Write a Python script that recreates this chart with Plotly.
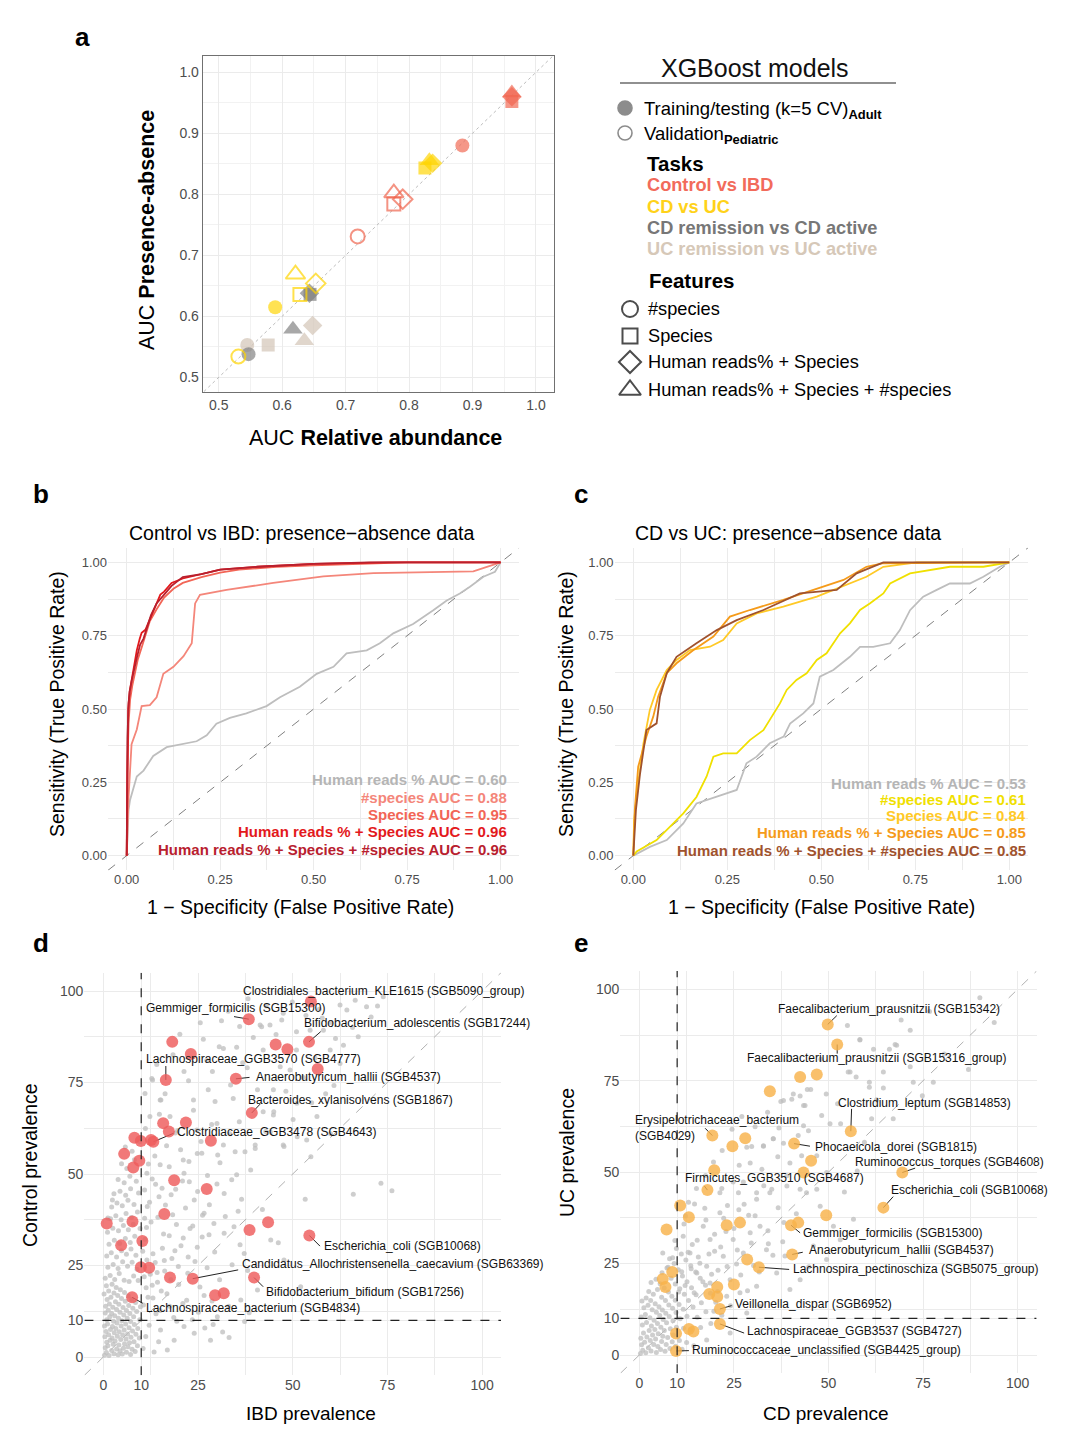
import plotly.graph_objects as go

# page body has an 8px margin: figure is sized to fit the 1080x1433 window
OFF = 8
W, H = 1080 - 2 * OFF, 1433 - 2 * OFF
FONT = "Liberation Sans, Arial, Helvetica, sans-serif"
TICK_COL = "#4D4D4D"
GRID = "#EBEBEB"

# ---------------- Panel a data ----------------
feature_names = ["#species", "Species", "Human reads% + Species", "Human reads% + Species + #species"]
feature_symbols = ["circle", "square", "diamond", "triangle-up"]
task_names = ["Control vs IBD", "CD vs UC", "CD remission vs CD active", "UC remission vs UC active"]
task_colors = ["#F0654F", "#FFD400", "#7F7F7F", "#D2C3B4"]

# training/testing (filled) : AUC relative abundance, AUC presence-absence, per feature set
train_ra = {
    "Control vs IBD": [0.884, 0.962, 0.962, 0.962],
    "CD vs UC": [0.589, 0.825, 0.837, 0.832],
    "CD remission vs CD active": [0.547, 0.644, 0.643, 0.617],
    "UC remission vs UC active": [0.545, 0.578, 0.648, 0.635],
}
train_pa = {
    "Control vs IBD": [0.880, 0.952, 0.960, 0.966],
    "CD vs UC": [0.615, 0.843, 0.851, 0.855],
    "CD remission vs CD active": [0.538, 0.636, 0.638, 0.579],
    "UC remission vs UC active": [0.553, 0.553, 0.585, 0.560],
}
# validation (open)
valid_ra = {
    "Control vs IBD": [0.719, 0.776, 0.790, 0.776],
    "CD vs UC": [0.531, 0.628, 0.653, 0.621],
}
valid_pa = {
    "Control vs IBD": [0.731, 0.784, 0.792, 0.802],
    "CD vs UC": [0.534, 0.636, 0.654, 0.669],
}

# ---------------- Panel b data (Control vs IBD ROC) ----------------
b_labels = ["Human reads % AUC = 0.60", "#species AUC = 0.88", "Species AUC = 0.95",
            "Human reads % + Species AUC = 0.96", "Human reads % + Species + #species AUC = 0.96"]
b_colors = ["#BEBEBE", "#F4867A", "#F26556", "#E3191C", "#B8202E"]
b_fpr_hr = [0, 0.003, 0.005, 0.009, 0.018, 0.027, 0.045, 0.071, 0.107, 0.143, 0.187, 0.214, 0.24, 0.276, 0.32,
            0.374, 0.41, 0.463, 0.508, 0.553, 0.588, 0.642, 0.677, 0.713, 0.766, 0.82, 0.856, 0.891, 0.918,
            0.954, 0.985, 1.0]
b_tpr_hr = [0, 0.08, 0.156, 0.19, 0.23, 0.27, 0.29, 0.34, 0.37, 0.38, 0.39, 0.41, 0.45, 0.47, 0.485, 0.51,
            0.54, 0.576, 0.62, 0.644, 0.69, 0.70, 0.724, 0.758, 0.79, 0.837, 0.87, 0.894, 0.917, 0.951,
            0.968, 1.0]
b_fpr_ns = [0, 0.002, 0.005, 0.009, 0.013, 0.027, 0.04, 0.062, 0.08, 0.098, 0.125, 0.152, 0.174, 0.183,
            0.196, 0.267, 0.392, 0.526, 0.66, 0.927, 1.0]
b_tpr_ns = [0, 0.1, 0.2, 0.29, 0.38, 0.43, 0.51, 0.513, 0.54, 0.62, 0.644, 0.68, 0.724, 0.86, 0.889, 0.906,
            0.93, 0.952, 0.963, 0.969, 1.0]
b_fpr_sp = [0, 0.002, 0.005, 0.009, 0.015, 0.022, 0.03, 0.04, 0.05, 0.062, 0.08, 0.1, 0.125, 0.15, 0.2, 0.25,
            0.3, 0.4, 0.5, 0.6, 0.75, 1.0]
b_tpr_sp = [0, 0.3, 0.45, 0.53, 0.58, 0.62, 0.67, 0.71, 0.75, 0.8, 0.84, 0.88, 0.91, 0.93, 0.95, 0.965, 0.975,
            0.985, 0.99, 0.995, 1.0, 1.0]
b_fpr_hs = [0, 0.002, 0.004, 0.008, 0.013, 0.02, 0.027, 0.035, 0.04, 0.05, 0.06, 0.075, 0.09, 0.1, 0.12,
            0.15, 0.2, 0.25, 0.35, 0.5, 0.7, 1.0]
b_tpr_hs = [0, 0.35, 0.5, 0.56, 0.6, 0.65, 0.7, 0.74, 0.76, 0.77, 0.8, 0.85, 0.89, 0.9, 0.93, 0.945, 0.96,
            0.975, 0.985, 0.995, 1.0, 1.0]
b_fpr_all = [0, 0.002, 0.005, 0.008, 0.014, 0.02, 0.028, 0.036, 0.045, 0.055, 0.065, 0.08, 0.1, 0.12, 0.15,
             0.2, 0.25, 0.35, 0.5, 0.65, 1.0]
b_tpr_all = [0, 0.4, 0.52, 0.56, 0.6, 0.64, 0.68, 0.72, 0.74, 0.78, 0.82, 0.86, 0.89, 0.92, 0.95, 0.96,
             0.975, 0.985, 0.995, 1.0, 1.0]

# ---------------- Panel c data (CD vs UC ROC) ----------------
c_labels = ["Human reads % AUC = 0.53", "#species AUC = 0.61", "Species AUC = 0.84",
            "Human reads % + Species AUC = 0.85", "Human reads % + Species + #species AUC = 0.85"]
c_colors = ["#BEBEBE", "#F0E000", "#FFC926", "#F59B1A", "#A0522D"]
c_fpr_hr = [0, 0.044, 0.089, 0.133, 0.168, 0.222, 0.275, 0.301, 0.328, 0.363, 0.4, 0.417, 0.452, 0.479,
            0.496, 0.532, 0.576, 0.603, 0.638, 0.683, 0.709, 0.736, 0.771, 0.807, 0.842, 0.895, 0.931,
            0.975, 1.0]
c_tpr_hr = [0, 0.03, 0.053, 0.11, 0.178, 0.2, 0.224, 0.315, 0.3375, 0.383, 0.406, 0.45, 0.485, 0.519, 0.61,
            0.633, 0.678, 0.712, 0.712, 0.724, 0.769, 0.837, 0.883, 0.906, 0.928, 0.928, 0.951, 0.985, 1.0]
c_fpr_ns = [0, 0.009, 0.062, 0.098, 0.133, 0.168, 0.195, 0.213, 0.239, 0.275, 0.31, 0.346, 0.363, 0.39,
            0.408, 0.434, 0.461, 0.488, 0.514, 0.55, 0.576, 0.603, 0.629, 0.665, 0.683, 0.736, 0.842, 0.931,
            1.0]
c_tpr_ns = [0, 0.014, 0.053, 0.099, 0.144, 0.2, 0.27, 0.3375, 0.349, 0.349, 0.394, 0.428, 0.4625, 0.519,
            0.565, 0.599, 0.622, 0.667, 0.69, 0.758, 0.792, 0.8375, 0.86, 0.894, 0.928, 0.9625, 0.985,
            0.985, 1.0]
c_fpr_sp = [0, 0.002, 0.013, 0.027, 0.044, 0.062, 0.089, 0.115, 0.151, 0.204, 0.239, 0.275, 0.328, 0.399,
            0.488, 0.576, 0.62, 0.665, 0.754, 1.0]
c_tpr_sp = [0, 0.12, 0.247, 0.383, 0.497, 0.565, 0.633, 0.667, 0.701, 0.7125, 0.735, 0.792, 0.826, 0.849,
            0.883, 0.928, 0.951, 0.985, 1.0, 1.0]
c_fpr_hs = [0, 0.004, 0.013, 0.035, 0.053, 0.066, 0.089, 0.115, 0.16, 0.213, 0.257, 0.31, 0.399, 0.479,
            0.559, 0.62, 0.665, 1.0]
c_tpr_hs = [0, 0.156, 0.303, 0.406, 0.474, 0.542, 0.622, 0.656, 0.701, 0.747, 0.815, 0.8375, 0.872, 0.906,
            0.94, 0.985, 0.997, 1.0]
c_fpr_all = [0, 0.002, 0.007, 0.018, 0.035, 0.062, 0.071, 0.089, 0.115, 0.168, 0.222, 0.275, 0.346, 0.443,
             0.541, 0.594, 0.665, 1.0]
c_tpr_all = [0, 0.06, 0.156, 0.28, 0.428, 0.451, 0.542, 0.622, 0.678, 0.724, 0.769, 0.803, 0.8375, 0.894,
             0.906, 0.9625, 1.0, 1.0]

# ---------------- Panel d data (IBD prevalence vs Control prevalence) ----------------
d_grey_x = [0.3, 0.8, 1.5, 2.2, 0.5, 1.2, 2.8, 3.5, 0.9, 1.8, 2.6, 3.9, 4.4, 0.4, 1.4, 2.3, 3.1, 4.1, 5.0, 5.3,
            0.7, 1.9, 2.9, 3.7, 4.6, 5.6, 6.1, 6.5, 0.3, 1.1, 2.4, 3.3, 4.2, 5.1, 6.0, 6.9, 7.2, 7.6, 0.9, 1.7,
            2.7, 3.6, 4.7, 5.5, 6.4, 7.3, 8.1, 8.4, 0.5, 1.3, 2.2, 3.0, 4.0, 4.9, 5.9, 6.8, 7.7, 8.6, 9.0, 0.6,
            1.6, 2.5, 3.5, 4.4, 5.4, 6.3, 7.2, 8.2, 9.1, 9.5, 1.0, 2.0, 3.2, 4.1, 5.2, 6.1, 7.0, 8.0, 0.2, 1.4,
            2.8, 3.8, 4.8, 5.8, 6.7, 7.8, 8.8, 9.6, 0.8, 2.3, 3.4, 4.5, 5.6, 6.6, 7.5, 8.5, 9.8,
            0.5, 1.8, 3.0, 4.2, 5.5, 6.8, 8.0, 9.2, 10.8, 1.2, 2.6, 3.9, 5.1, 6.4, 7.6, 8.9, 11.5, 0.9, 2.1,
            3.5, 4.8, 6.1, 7.3, 8.6, 10.4, 1.5, 2.9, 4.3, 5.8, 7.1, 8.3, 11.0, 1.1, 2.5, 4.0, 5.3, 6.6, 7.9,
            9.7, 1.9, 3.3, 4.7, 6.0, 7.4, 9.0, 10.9, 2.2, 3.6, 5.0, 6.5, 8.1, 11.6, 2.8, 4.4, 5.9, 7.2, 9.3,
            3.9, 5.5, 7.0, 8.7, 6.2, 4.8, 8.2, 7.6, 5.8, 9.6,
            10.5, 11.2, 12.1, 13.4, 13.9, 14.6, 15.1, 16.9, 17.5, 18.7, 19.4, 21.3, 22.0, 24.0, 25.1, 28.3,
            29.0, 30.1, 26.6, 33.2, 36.3, 40.7, 38.5, 11.8, 12.9, 14.2, 15.3, 16.1, 17.8, 18.9, 19.8, 21.1,
            22.4, 23.6, 24.8, 26.2, 27.9, 29.2, 31.9, 34.5, 37.2, 44.2, 47.7, 52.1, 46.2, 36.5, 53.3, 66.0,
            73.3, 76.2, 13.1, 14.7, 15.9, 17.4, 18.3, 20.4, 21.3, 24.0, 24.8, 26.6, 31.9, 38.9, 12.6, 13.8,
            16.4, 19.1, 22.7, 27.5, 30.8, 33.9, 35.6, 42.0,
            13.0, 15.2, 21.3, 28.8, 27.7, 30.6, 33.6, 40.7, 45.0, 42.9, 47.7, 51.2, 54.8, 66.5, 69.5, 73.9,
            62.5, 64.3, 58.1, 54.6, 51.0, 47.1, 44.0, 41.8, 63.4, 67.3, 59.9, 51.0, 42.2, 46.7, 49.3, 62.5,
            44.9, 56.4, 51.1, 44.9, 40.1, 37.4, 53.7, 47.5, 41.4, 31.7, 35.2, 39.6, 27.3, 23.8, 23.8, 15.0,
            12.8, 11.0, 12.3, 17.6, 24.7, 31.7, 34.8, 40.1, 47.5, 26.0, 21.1, 15.0, 11.5, 42.2, 20.2, 25.6,
            33.0, 36.8, 18.4, 29.5, 35.9, 19.0, 57.8, 60.9, 14.1, 49.9, 38.2, 2.4, 1.2,
            10.6, 11.3, 12.4, 13.1, 13.7, 14.3, 15.0, 15.6, 16.2, 16.8, 17.4, 18.1, 18.6, 19.3, 19.9, 20.5,
            21.0, 21.7, 22.3, 22.9, 23.5, 24.2, 24.9, 25.5, 26.1, 26.8, 27.4, 28.0, 28.7, 29.4, 30.0, 30.7,
            31.5, 32.2, 33.1, 34.0, 35.2, 36.1, 37.3, 38.1, 11.4, 12.2, 12.9, 13.6, 14.4, 15.5, 16.7, 17.9,
            19.6, 20.9, 22.6, 25.8, 28.6, 30.2, 33.4, 10.9, 11.9, 11.1, 14.8, 16.3,
            57.0, 60.1, 65.8, 70.7, 72.4, 61.3, 55.9, 52.8, 58.7, 48.2, 45.6, 53.5, 43.0, 36.0, 31.2, 26.4,
            22.5, 38.0, 34.3, 30.0, 44.1, 50.1, 55.0, 60.0]
d_grey_y = [0.5, 1.2, 0.4, 1.8, 2.5, 3.1, 0.9, 2.2, 4.0, 4.6, 3.5, 0.6, 1.7, 5.5, 6.1, 5.2, 4.4, 3.3, 0.8, 2.4,
            7.0, 7.5, 6.6, 5.7, 4.8, 3.6, 1.3, 2.8, 8.5, 9.0, 8.3, 7.8, 6.9, 6.0, 4.9, 3.9, 0.7, 2.1, 10.2,
            11.0, 9.8, 9.3, 8.5, 7.4, 6.3, 5.4, 4.2, 1.5, 12.0, 12.8, 11.9, 11.3, 10.6, 9.9, 9.0, 8.0, 7.1, 6.2,
            3.1, 13.9, 14.5, 13.6, 13.0, 12.2, 11.5, 10.6, 9.7, 8.9, 7.8, 5.2, 15.7, 16.3, 15.1, 14.4, 13.5,
            12.7, 11.9, 11.0, 17.2, 18.0, 17.5, 16.8, 16.0, 15.2, 14.1, 13.3, 12.4, 10.2, 19.5, 19.9, 19.0,
            18.4, 17.6, 16.7, 15.8, 14.9, 13.7,
            21.5, 22.3, 21.2, 22.8, 21.0, 20.6, 22.1, 20.9, 21.9, 24.5, 25.3, 24.2, 26.0, 24.8, 25.9, 24.0,
            26.5, 27.6, 28.5, 27.3, 29.0, 28.1, 29.5, 27.8, 28.9, 30.8, 31.9, 31.0, 32.4, 31.3, 33.0, 32.2,
            34.1, 35.2, 34.5, 35.9, 34.8, 36.3, 35.1, 37.8, 38.6, 37.5, 39.2, 38.1, 39.6, 37.9, 41.0, 42.1,
            41.3, 42.8, 41.7, 41.1, 44.6, 45.3, 44.2, 46.0, 44.8, 48.5, 47.6, 49.4, 48.0, 51.5, 52.8, 53.9,
            56.2, 57.4, 58.8,
            2.3, 5.6, 8.7, 1.4, 11.8, 4.2, 7.4, 1.9, 13.9, 4.6, 9.8, 8.3, 15.5, 6.5, 12.2, 4.6, 8.9, 11.0,
            16.8, 5.3, 15.6, 18.3, 12.1, 16.3, 19.6, 23.1, 18.0, 26.4, 21.2, 29.0, 24.7, 32.5, 27.3, 35.8,
            30.0, 38.7, 33.4, 36.5, 33.8, 35.6, 28.3, 32.0, 26.5, 19.2, 31.2, 43.1, 43.1, 44.5, 47.5, 45.4,
            28.2, 43.8, 33.6, 52.0, 38.9, 56.6, 50.2, 42.9, 55.6, 39.3, 44.7, 51.1, 36.9, 47.2, 41.5, 45.8,
            47.9, 49.6, 53.1, 48.4, 39.8, 40.3,
            75.7, 70.2, 78.0, 78.0, 73.0, 84.8, 74.3, 73.0, 67.0, 61.6, 57.5, 60.2, 54.7, 97.5, 95.7, 98.4,
            96.2, 94.8, 89.3, 89.3, 88.9, 92.1, 90.7, 90.2, 85.2, 87.5, 83.9, 83.9, 83.9, 79.3, 78.4, 80.2,
            73.0, 65.7, 69.3, 66.1, 57.9, 56.1, 59.3, 93.9, 90.7, 84.3, 84.6, 87.3, 81.1, 70.2, 67.4, 70.2,
            76.1, 72.0, 65.7, 65.7, 62.0, 57.9, 56.1, 57.0, 57.9, 55.7, 53.8, 52.5, 50.2, 67.0, 88.2, 91.3,
            94.5, 80.4, 82.6, 69.8, 64.3, 61.2, 92.6, 74.2, 79.9, 97.0, 97.9, 42.9, 38.0,
            14.2, 18.9, 22.6, 16.1, 25.8, 20.4, 12.7, 29.7, 23.5, 17.3, 33.1, 26.9, 10.8, 36.2, 19.8, 30.4,
            14.6, 40.7, 22.9, 35.1, 10.2, 26.1, 45.2, 19.1, 32.8, 7.9, 24.4, 41.6, 15.3, 28.7, 47.3, 21.1,
            6.8, 38.4, 13.9, 25.2, 49.8, 30.7, 9.7, 23.6, 35.4, 42.3, 48.6, 54.9, 38.2, 46.1, 57.7, 44.3,
            61.8, 48.1, 53.4, 58.9, 63.5, 55.2, 61.0, 45.6, 52.7, 62.4, 66.3, 71.9,
            95.0, 91.4, 90.0, 92.9, 95.9, 87.0, 81.7, 76.4, 71.9, 72.6, 88.1, 93.3, 95.9, 90.3, 91.9, 86.8,
            75.5, 79.0, 70.6, 63.8, 61.5, 64.9, 69.5, 61.0]

d_hl_x = [38.4, 18.2, 23.1, 16.5, 35.0, 45.5, 48.6, 39.2, 15.8, 21.8, 17.3, 13.2, 12.6, 28.4, 8.2, 9.9, 5.5,
          9.5, 7.9, 18.7, 54.8, 54.3, 56.6, 27.3, 16.1, 0.9, 7.7, 4.7, 10.3, 38.6, 43.5, 54.4, 9.9, 12.1,
          17.6, 23.6, 39.8, 29.5, 31.8, 7.6]
d_hl_y = [92.3, 86.1, 82.8, 75.7, 76.0, 85.4, 84.1, 66.7, 63.9, 64.1, 61.6, 58.8, 59.3, 59.1, 59.9, 59.0, 55.5,
          53.6, 51.8, 48.3, 97.1, 86.1, 78.7, 45.9, 39.1, 36.5, 37.0, 30.5, 31.7, 34.7, 36.8, 33.2, 24.5,
          24.4, 21.7, 21.4, 21.7, 16.9, 17.4, 16.3]
# labelled species: (label, species x, species y, label x, label y, leader start x, leader start y)
d_labels = [
    ("Clostridiales_bacterium_KLE1615 (SGB5090_group)", 54.8, 97.1, 36.4, 100.1, None, None),
    ("Gemmiger_formicilis (SGB15300)", 38.4, 92.3, 10.8, 95.4, 34.5, 93.0),
    ("Bifidobacterium_adolescentis (SGB17244)", 54.3, 86.1, 52.4, 91.2, 57.4, 88.9),
    ("Lachnospiraceae_GGB3570 (SGB4777)", 16.5, 75.7, 10.7, 81.3, 16.5, 79.5),
    ("Anaerobutyricum_hallii (SGB4537)", 35.0, 76.0, 39.8, 76.4, 38.6, 76.4),
    ("Bacteroides_xylanisolvens (SGB1867)", 39.2, 66.7, 37.6, 70.2, 41.4, 69.1),
    ("Clostridiaceae_GGB3478 (SGB4643)", 13.2, 58.8, 18.9, 61.4, 18.5, 61.1),
    ("Escherichia_coli (SGB10068)", 54.4, 33.2, 57.7, 30.3, 57.2, 30.3),
    ("Candidatus_Allochristensenella_caecavium (SGB63369)", 23.6, 21.4, 36.1, 25.3, 35.6, 23.8),
    ("Bifidobacterium_bifidum (SGB17256)", 39.8, 21.7, 42.4, 17.8, 42.2, 19.2),
    ("Lachnospiraceae_bacterium (SGB4834)", 7.6, 16.3, 10.8, 13.5, 10.4, 14.7),
]

# ---------------- Panel e data (CD prevalence vs UC prevalence) ----------------
e_grey_x = [0.3, 0.9, 1.7, 2.4, 0.6, 1.4, 3.1, 3.8, 0.4, 2.0, 2.9, 4.5, 4.9, 1.1, 2.6, 3.5, 4.3, 5.6, 5.9, 0.8,
            1.9, 3.2, 4.1, 5.0, 6.2, 6.8, 7.1, 0.5, 1.6, 2.8, 3.9, 4.8, 5.7, 6.6, 7.5, 8.1, 8.7, 1.2, 2.3, 3.4,
            4.5, 5.4, 6.3, 7.2, 8.2, 9.0, 9.6, 0.7, 1.8, 3.0, 4.2, 5.2, 6.1, 7.0, 7.9, 8.9, 9.8, 10.6, 11.3,
            2.5, 3.7, 4.8, 5.9, 6.9, 7.8, 8.8, 9.7, 10.8, 11.7, 12.5, 3.1, 4.4, 5.5, 6.6, 7.7, 8.6, 9.5, 10.5,
            11.6, 12.6, 13.5, 14.4,
            6.0, 7.3, 8.4, 9.5, 10.7, 11.9, 13.0, 14.2, 15.3, 16.2, 17.8, 8.0, 9.2, 10.3, 11.4, 12.6, 13.8,
            15.0, 16.4, 17.6, 18.9, 9.8, 11.1, 12.3, 13.6, 14.9, 16.1, 17.5, 18.8, 20.2, 21.8, 11.6, 13.4,
            15.2, 17.8, 18.7, 16.9, 18.7, 21.3, 24.8, 27.5, 22.2, 24.0, 26.6, 31.0, 31.9, 28.4, 24.0, 29.3,
            31.9, 36.3, 39.8, 42.5, 46.0, 49.5, 51.3, 56.6, 47.8, 44.2, 39.0, 34.5, 31.0, 26.2, 21.3, 28.4,
            32.8, 35.4, 38.1, 40.7, 43.8, 55.7, 58.3, 68.0, 14.0, 15.6, 19.9, 20.8, 22.9, 25.7, 23.1, 19.7,
            26.3, 33.6, 37.9, 30.2, 12.2, 14.6, 17.3,
            90.0, 93.8, 76.7, 71.6, 67.6, 66.1, 61.9, 58.3, 71.6, 64.5, 87.0, 77.7, 72.4, 60.8, 60.8, 64.5,
            55.2, 57.3, 44.4, 45.3, 49.4, 37.4, 40.3, 42.5, 43.4, 48.2, 43.4, 50.4, 53.2, 67.1, 61.4, 35.4,
            38.1, 42.0, 44.7, 29.7, 32.8, 39.8, 42.9, 46.9, 49.5, 46.9, 42.5, 39.0, 35.0, 31.0, 27.5, 24.8,
            21.8, 29.3, 32.4, 36.6, 26.4, 23.3, 28.9, 41.5, 34.1, 44.8, 53.1, 38.5, 59.5, 52.4, 62.7, 48.0,
            55.0, 80.6, 69.2, 74.8, 57.6, 54.2,
            10.4, 11.2, 12.1, 12.9, 13.7, 14.5, 15.3, 16.0, 16.8, 17.6, 18.4, 19.1, 19.9, 20.7, 21.5, 22.3,
            23.2, 24.1, 25.0, 25.9, 26.8, 27.7, 28.6, 29.6, 30.6, 31.7, 32.9, 34.0, 35.3, 36.7, 38.2, 11.8,
            13.0, 15.1, 17.5, 19.6, 21.9, 24.5, 27.1, 30.6, 33.9, 36.9, 8.8, 7.6, 9.4, 6.2]
e_grey_y = [0.4, 1.3, 0.6, 2.0, 2.8, 3.5, 1.1, 2.9, 4.6, 4.9, 4.0, 0.7, 2.3, 6.0, 6.7, 5.5, 4.4, 1.5, 3.7, 8.2,
            8.9, 7.9, 7.0, 5.8, 5.1, 1.0, 2.9, 10.4, 11.1, 10.2, 9.5, 8.6, 7.6, 6.7, 4.8, 1.8, 3.6, 12.9,
            13.6, 12.4, 11.7, 10.8, 9.7, 8.8, 7.2, 5.5, 2.4, 14.8, 15.6, 14.9, 14.0, 13.2, 12.3, 11.4, 10.5,
            9.4, 7.6, 4.0, 1.6, 17.4, 16.6, 17.9, 15.8, 14.9, 13.7, 12.8, 11.6, 9.9, 7.3, 3.4, 19.8, 20.7,
            19.5, 18.3, 17.2, 16.1, 15.0, 13.8, 12.5, 10.6, 6.9, 2.5,
            22.5, 23.8, 21.0, 19.4, 18.1, 16.6, 14.9, 13.1, 10.3, 7.5, 4.1, 26.3, 25.0, 23.3, 21.6, 20.0,
            18.4, 16.5, 14.3, 11.8, 8.6, 29.1, 27.6, 26.0, 24.4, 22.7, 21.0, 19.1, 16.9, 14.4, 10.9, 32.5,
            27.9, 22.4, 24.3, 19.7, 35.2, 31.6, 38.9, 31.6, 27.9, 27.0, 20.6, 17.0, 18.8, 13.3, 11.5, 6.0,
            33.4, 35.2, 22.4, 17.9, 20.6, 29.8, 26.1, 35.2, 37.1, 40.7, 44.4, 46.2, 44.4, 42.6, 44.4, 44.4,
            56.8, 57.2, 59.1, 69.6, 71.4, 68.2, 77.4, 86.1, 84.7, 30.2, 26.8, 28.4, 23.2, 33.8, 24.9, 16.1,
            12.0, 39.7, 28.8, 31.0, 24.5, 38.0, 41.3, 40.1,
            97.7, 90.9, 93.9, 88.8, 84.9, 83.6, 83.6, 86.3, 78.8, 77.4, 78.1, 74.6, 74.6, 74.6, 73.2, 73.0,
            77.4, 76.0, 72.6, 72.6, 71.4, 69.3, 69.9, 70.8, 68.2, 65.5, 62.7, 63.2, 63.2, 64.6, 64.6, 59.1,
            57.9, 60.0, 61.3, 57.0, 57.1, 52.5, 54.5, 54.5, 49.9, 45.3, 45.3, 49.0, 45.3, 44.4, 47.3, 47.3,
            45.5, 52.5, 50.8, 54.2, 51.9, 40.9, 38.2, 38.6, 30.4, 24.1, 31.5, 27.1, 58.2, 68.7, 69.8, 80.9,
            90.1, 82.3, 91.6, 70.9, 50.3, 44.6,
            17.2, 22.8, 19.0, 28.1, 23.6, 17.0, 31.4, 25.1, 20.0, 36.9, 27.6, 22.1, 33.0, 17.4, 29.5, 37.4,
            24.2, 13.5, 34.6, 28.7, 21.9, 41.2, 17.6, 30.6, 38.1, 22.7, 46.3, 34.0, 27.3, 40.3, 36.2, 35.8,
            41.8, 45.5, 49.1, 52.8, 55.9, 61.7, 65.2, 62.4, 66.4, 62.1, 26.6, 24.0, 31.3, 27.9]

e_hl_x = [49.8, 52.3, 42.5, 46.9, 34.5, 55.9, 19.3, 24.6, 28.0, 40.9, 45.4, 43.4, 19.8, 69.5, 18.0, 64.5,
          10.8, 13.1, 7.2, 49.4, 23.1, 26.6, 40.1, 42.0, 40.4, 28.5, 31.6, 8.7, 6.2, 6.9, 20.6, 25.0, 18.5,
          20.6, 21.3, 21.3, 13.1, 14.3, 9.7, 9.7]
e_hl_y = [90.4, 84.9, 76.0, 76.7, 72.1, 61.2, 60.0, 57.1, 59.3, 57.8, 53.1, 49.9, 50.5, 49.9, 45.1, 40.3,
          40.9, 37.7, 34.3, 38.2, 35.5, 36.2, 35.5, 36.2, 27.5, 26.1, 24.0, 22.7, 20.8, 18.6, 18.6, 19.3,
          16.7, 15.9, 12.6, 8.5, 7.1, 6.4, 5.9, 1.1]
e_labels = [
    ("Faecalibacterium_prausnitzii (SGB15342)", 49.8, 90.4, 36.1, 94.6, 52.2, 92.8),
    ("Faecalibacterium_prausnitzii (SGB15316_group)", 52.3, 84.9, 27.9, 81.3, 52.3, 82.4),
    ("Clostridium_leptum (SGB14853)", 55.9, 61.2, 52.0, 69.0, 56.1, 67.3),
    ("Erysipelotrichaceae_bacterium<br>(SGB4029)", 19.3, 60.0, -1.6, 62.1, 17.4, 62.0),
    ("Phocaeicola_dorei (SGB1815)", 40.9, 57.8, 46.0, 56.8, 45.1, 57.1),
    ("Ruminococcus_torques (SGB4608)", 69.5, 49.9, 56.6, 52.7, 72.9, 51.1),
    ("Firmicutes_GGB3510 (SGB4687)", 18.0, 45.1, 11.5, 48.5, 17.2, 46.2),
    ("Escherichia_coli (SGB10068)", 64.5, 40.3, 66.0, 45.1, 67.1, 43.3),
    ("Gemmiger_formicilis (SGB15300)", 40.1, 35.5, 42.7, 33.4, 42.5, 33.4),
    ("Anaerobutyricum_hallii (SGB4537)", 40.4, 27.5, 44.3, 28.6, 43.2, 28.1),
    ("Lachnospira_pectinoschiza (SGB5075_group)", 31.6, 24.0, 40.1, 23.4, 39.6, 23.4),
    ("Veillonella_dispar (SGB6952)", 21.3, 12.6, 24.7, 13.9, 24.4, 13.5),
    ("Lachnospiraceae_GGB3537 (SGB4727)", 21.3, 8.5, 28.0, 6.7, 27.7, 6.0),
    ("Ruminococcaceae_unclassified (SGB4425_group)", 9.7, 1.1, 13.4, 1.4, 13.1, 1.2),
]

prev_ticks = [0, 10, 25, 50, 75, 100]

# ====================================================================
fig = go.Figure()


def dom_x(p0, p1):
    return [(p0 - OFF) / W, (p1 - OFF) / W]


def dom_y(p_top, p_bot):
    return [1 - (p_bot - OFF) / H, 1 - (p_top - OFF) / H]


# ---------- panel a points ----------
train_order = ["UC remission vs UC active", "CD remission vs CD active", "CD vs UC", "Control vs IBD"]
for t in train_order:
    col = task_colors[task_names.index(t)]
    fig.add_trace(go.Scatter(
        x=train_ra[t], y=train_pa[t], mode="markers", xaxis="x", yaxis="y",
        marker=dict(symbol=feature_symbols, size=[14, 13, 15, 17], color=col, opacity=0.68,
                    line=dict(width=0)),
        hoverinfo="skip"))
for t in ["Control vs IBD", "CD vs UC"]:
    col = task_colors[task_names.index(t)]
    fig.add_trace(go.Scatter(
        x=valid_ra[t], y=valid_pa[t], mode="markers", xaxis="x", yaxis="y",
        marker=dict(symbol=[s + "-open" for s in feature_symbols], size=[14, 13, 15, 17], color=col,
                    line=dict(width=2, color=col)),
        hoverinfo="skip"))

# ---------- panel b curves ----------
b_fprs = [b_fpr_hr, b_fpr_ns, b_fpr_sp, b_fpr_hs, b_fpr_all]
b_tprs = [b_tpr_hr, b_tpr_ns, b_tpr_sp, b_tpr_hs, b_tpr_all]
for xs, ys, col in zip(b_fprs, b_tprs, b_colors):
    fig.add_trace(go.Scatter(x=xs, y=ys, mode="lines", xaxis="x2", yaxis="y2",
                             line=dict(color=col, width=1.8), hoverinfo="skip"))

# ---------- panel c curves ----------
c_fprs = [c_fpr_hr, c_fpr_ns, c_fpr_sp, c_fpr_hs, c_fpr_all]
c_tprs = [c_tpr_hr, c_tpr_ns, c_tpr_sp, c_tpr_hs, c_tpr_all]
for xs, ys, col in zip(c_fprs, c_tprs, c_colors):
    fig.add_trace(go.Scatter(x=xs, y=ys, mode="lines", xaxis="x3", yaxis="y3",
                             line=dict(color=col, width=1.8), hoverinfo="skip"))


# ---------- panel d / e scatter ----------
def add_prev_panel(xa, ya, gx, gy, hx, hy, labels, hcol):
    fig.add_trace(go.Scatter(x=gx, y=gy, mode="markers", xaxis=xa, yaxis=ya,
                             marker=dict(size=5, color="#BDBDBD", opacity=0.75, line=dict(width=0)),
                             hoverinfo="skip"))
    lx, ly = [], []
    for (_, px_, py_, _, _, sx, sy) in labels:
        if sx is None:
            continue
        lx += [sx, px_, None]
        ly += [sy, py_, None]
    fig.add_trace(go.Scatter(x=lx, y=ly, mode="lines", xaxis=xa, yaxis=ya,
                             line=dict(color="#222222", width=1), hoverinfo="skip"))
    fig.add_trace(go.Scatter(x=hx, y=hy, mode="markers", xaxis=xa, yaxis=ya,
                             marker=dict(size=12, color=hcol, opacity=0.82, line=dict(width=0)),
                             hoverinfo="skip"))
    for (txt, _, _, tx, ty, _, _) in labels:
        fig.add_annotation(x=tx, y=ty, xref=xa, yref=ya, text=txt, showarrow=False,
                           xanchor="left", yanchor="middle", align="left",
                           font=dict(family=FONT, size=12, color="#111111"))


add_prev_panel("x4", "y4", d_grey_x, d_grey_y, d_hl_x, d_hl_y, d_labels, "#EE5C5C")
add_prev_panel("x5", "y5", e_grey_x, e_grey_y, e_hl_x, e_hl_y, e_labels, "#F8B24A")

# ---------- panel a custom legend glyphs (hidden full-figure axis, pixel units) ----------
legend_model_fill = ["#8C8C8C", "#8C8C8C"]
legend_model_sym = ["circle", "circle-open"]
legend_model_rows = [108, 133]
legend_feat_rows = [309, 336, 362, 390]
fig.add_trace(go.Scatter(
    x=[625, 625], y=legend_model_rows, mode="markers", xaxis="x6", yaxis="y6",
    marker=dict(symbol=legend_model_sym, size=14, color=legend_model_fill,
                line=dict(width=1.6, color="#8C8C8C")), hoverinfo="skip"))
fig.add_trace(go.Scatter(
    x=[630] * 4, y=legend_feat_rows, mode="markers", xaxis="x6", yaxis="y6",
    marker=dict(symbol=[s + "-open" for s in feature_symbols], size=[16, 15, 17, 19], color="#000000",
                line=dict(width=2, color="#000000")), hoverinfo="skip"))


# ---------------- annotations ----------------
def ann(text, px, py, size, color="#000000", xanchor="center", angle=0, yanchor="middle"):
    fig.add_annotation(x=(px - OFF) / W, y=1 - (py - OFF) / H, xref="paper", yref="paper", text=text,
                       showarrow=False, xanchor=xanchor, yanchor=yanchor, textangle=angle,
                       font=dict(family=FONT, size=size, color=color))


# panel letters
for letter, lx, ly in [("a", 82, 37), ("b", 41, 494), ("c", 581, 494), ("d", 41, 943), ("e", 581, 943)]:
    ann("<b>%s</b>" % letter, lx, ly, 26)

# panel a titles
ann("AUC <b>Relative abundance</b>", 375, 438, 21.5)
ann("AUC <b>Presence-absence</b>", 147, 230, 21.5, angle=-90)

# panel a legend text
ann("XGBoost models", 755, 68, 25, color="#111111")
ann("Training/testing (k=5 CV)<sub><b>Adult</b></sub>", 642, 110, 18.5, xanchor="left")
ann("Validation<sub><b>Pediatric</b></sub>", 642, 135, 18.5, xanchor="left")
ann("<b>Tasks</b>", 645, 163, 20.5, xanchor="left")
task_rows = [185, 207, 228, 249]
task_text_cols = ["#F26B5B", "#FFD21A", "#777777", "#D6C8B8"]
for name, ry, tc in zip(task_names, task_rows, task_text_cols):
    ann("<b>%s</b>" % name, 645, ry, 18.2, color=tc, xanchor="left")
ann("<b>Features</b>", 647, 280, 20.5, xanchor="left")
for name, ry in zip(feature_names, legend_feat_rows):
    ann(name, 646, ry, 18.2, xanchor="left")

# panel b/c titles and AUC labels
ann("Control vs IBD: presence\u2212absence data", 301, 533, 19.5)
ann("CD vs UC: presence\u2212absence data", 788, 533, 19.5)
ann("Sensitivity (True Positive Rate)", 57, 704, 19.5, angle=-90)
ann("Sensitivity (True Positive Rate)", 566, 704, 19.5, angle=-90)
ann("1 \u2212 Specificity (False Positive Rate)", 300, 907, 19.5)
ann("1 \u2212 Specificity (False Positive Rate)", 821, 907, 19.5)
b_rows = [779.5, 797, 814, 831.5, 849.5]
for txt, ry, col in zip(b_labels, b_rows, b_colors):
    ann("<b>%s</b>" % txt, 509, ry, 15, color=col if col != "#BEBEBE" else "#B5B5B5", xanchor="right")
c_rows = [783.5, 799.5, 815.5, 832.5, 850]
for txt, ry, col in zip(c_labels, c_rows, c_colors):
    ann("<b>%s</b>" % txt, 1028, ry, 15, color=col if col != "#BEBEBE" else "#B5B5B5", xanchor="right")

# panel d/e axis titles
ann("Control prevalence", 30, 1165, 19.5, angle=-90)
ann("IBD prevalence", 311, 1413, 19)
ann("UC prevalence", 567, 1153, 19.5, angle=-90)
ann("CD prevalence", 826, 1413, 19)

# ---------------- shapes ----------------
shapes = []
# panel a identity line
shapes.append(dict(type="line", xref="x", yref="y", x0=0.47, y0=0.47, x1=1.03, y1=1.03,
                   line=dict(color="#BDBDBD", width=1, dash="dot"), layer="between"))
# b / c chance lines
for xr, yr in [("x2", "y2"), ("x3", "y3")]:
    shapes.append(dict(type="line", xref=xr, yref=yr, x0=-0.05, y0=-0.05, x1=1.05, y1=1.05,
                       line=dict(color="#808080", width=1, dash="dash"), layer="between"))
# d / e identity and threshold lines
for xr, yr in [("x4", "y4"), ("x5", "y5")]:
    shapes.append(dict(type="line", xref=xr, yref=yr, x0=-5, y0=-5, x1=105, y1=105,
                       line=dict(color="#A8A8A8", width=0.9, dash="dash"), layer="between"))
    shapes.append(dict(type="line", xref=xr, yref=yr, x0=10, y0=-5, x1=10, y1=105,
                       line=dict(color="#222222", width=1.2, dash="dash"), layer="above"))
    shapes.append(dict(type="line", xref=xr, yref=yr, x0=-5, y0=10, x1=105, y1=10,
                       line=dict(color="#222222", width=1.2, dash="dash"), layer="above"))
# legend title underline
shapes.append(dict(type="line", xref="paper", yref="paper", x0=(620 - OFF) / W, y0=1 - (83 - OFF) / H,
                   x1=(896 - OFF) / W, y1=1 - (83 - OFF) / H, line=dict(color="#222222", width=1.2)))

# ---------------- axes ----------------
tickfont_a = dict(family=FONT, size=14, color=TICK_COL)
tickfont_b = dict(family=FONT, size=13, color=TICK_COL)
tickfont_d = dict(family=FONT, size=14, color=TICK_COL)

auc_ticks = [0.5, 0.6, 0.7, 0.8, 0.9, 1.0]
auc_minor = [0.55, 0.65, 0.75, 0.85, 0.95]
roc_ticks = [0, 0.25, 0.5, 0.75, 1.0]
roc_minor = [0.125, 0.375, 0.625, 0.875]
prev_minor = [12.5, 37.5, 62.5, 87.5]

common = dict(zeroline=False, showline=False, ticks="", gridcolor=GRID, gridwidth=1.1)

layout_axes = dict(
    xaxis=dict(domain=dom_x(202.7, 554), range=[0.4748, 1.0284], anchor="y", tickvals=auc_ticks,
               ticktext=["%.1f" % v for v in auc_ticks], tickfont=tickfont_a, showline=True, mirror=True,
               linecolor="#707070", linewidth=1, zeroline=False, gridcolor=GRID, gridwidth=1.1,
               minor=dict(tickvals=auc_minor, showgrid=True, gridcolor="#F2F2F2", gridwidth=0.7)),
    yaxis=dict(domain=dom_y(56, 392), range=[0.476, 1.0267], anchor="x", tickvals=auc_ticks,
               ticktext=["%.1f" % v for v in auc_ticks], tickfont=tickfont_a, showline=True, mirror=True,
               linecolor="#707070", linewidth=1, zeroline=False, gridcolor=GRID, gridwidth=1.1,
               minor=dict(tickvals=auc_minor, showgrid=True, gridcolor="#F2F2F2", gridwidth=0.7)),
    xaxis2=dict(domain=dom_x(108, 519.3), range=[-0.05, 1.05], anchor="y2", tickvals=roc_ticks,
                ticktext=["%.2f" % v for v in roc_ticks], tickfont=tickfont_b,
                minor=dict(tickvals=roc_minor, showgrid=True, gridcolor=GRID, gridwidth=0.6), **common),
    yaxis2=dict(domain=dom_y(547.7, 870.3), range=[-0.05, 1.05], anchor="x2", tickvals=roc_ticks,
                ticktext=["%.2f" % v for v in roc_ticks], tickfont=tickfont_b,
                minor=dict(tickvals=roc_minor, showgrid=True, gridcolor=GRID, gridwidth=0.6), **common),
    xaxis3=dict(domain=dom_x(614.5, 1028.1), range=[-0.05, 1.05], anchor="y3", tickvals=roc_ticks,
                ticktext=["%.2f" % v for v in roc_ticks], tickfont=tickfont_b,
                minor=dict(tickvals=roc_minor, showgrid=True, gridcolor=GRID, gridwidth=0.6), **common),
    yaxis3=dict(domain=dom_y(547.7, 870.3), range=[-0.05, 1.05], anchor="x3", tickvals=roc_ticks,
                ticktext=["%.2f" % v for v in roc_ticks], tickfont=tickfont_b,
                minor=dict(tickvals=roc_minor, showgrid=True, gridcolor=GRID, gridwidth=0.6), **common),
    xaxis4=dict(domain=dom_x(84.4, 501), range=[-5, 105], anchor="y4", tickvals=prev_ticks,
                tickfont=tickfont_d,
                minor=dict(tickvals=prev_minor, showgrid=True, gridcolor=GRID, gridwidth=0.6), **common),
    yaxis4=dict(domain=dom_y(972.7, 1375.3), range=[-5, 105], anchor="x4", tickvals=prev_ticks,
                tickfont=tickfont_d,
                minor=dict(tickvals=prev_minor, showgrid=True, gridcolor=GRID, gridwidth=0.6), **common),
    xaxis5=dict(domain=dom_x(620.4, 1036.6), range=[-5, 105], anchor="y5", tickvals=prev_ticks,
                tickfont=tickfont_d,
                minor=dict(tickvals=prev_minor, showgrid=True, gridcolor=GRID, gridwidth=0.6), **common),
    yaxis5=dict(domain=dom_y(971, 1373.3), range=[-5, 105], anchor="x5", tickvals=prev_ticks,
                tickfont=tickfont_d,
                minor=dict(tickvals=prev_minor, showgrid=True, gridcolor=GRID, gridwidth=0.6), **common),
    xaxis6=dict(domain=[0, 1], range=[OFF, OFF + W], anchor="y6", visible=False, fixedrange=True),
    yaxis6=dict(domain=[0, 1], range=[OFF + H, OFF], anchor="x6", visible=False, fixedrange=True),
)

fig.update_layout(
    width=W, height=H, margin=dict(l=0, r=0, t=0, b=0, pad=0),
    paper_bgcolor="white", plot_bgcolor="rgba(0,0,0,0)", showlegend=False,
    font=dict(family=FONT, color="#000000"),
    shapes=shapes, **layout_axes)

fig.write_html("out.html")
